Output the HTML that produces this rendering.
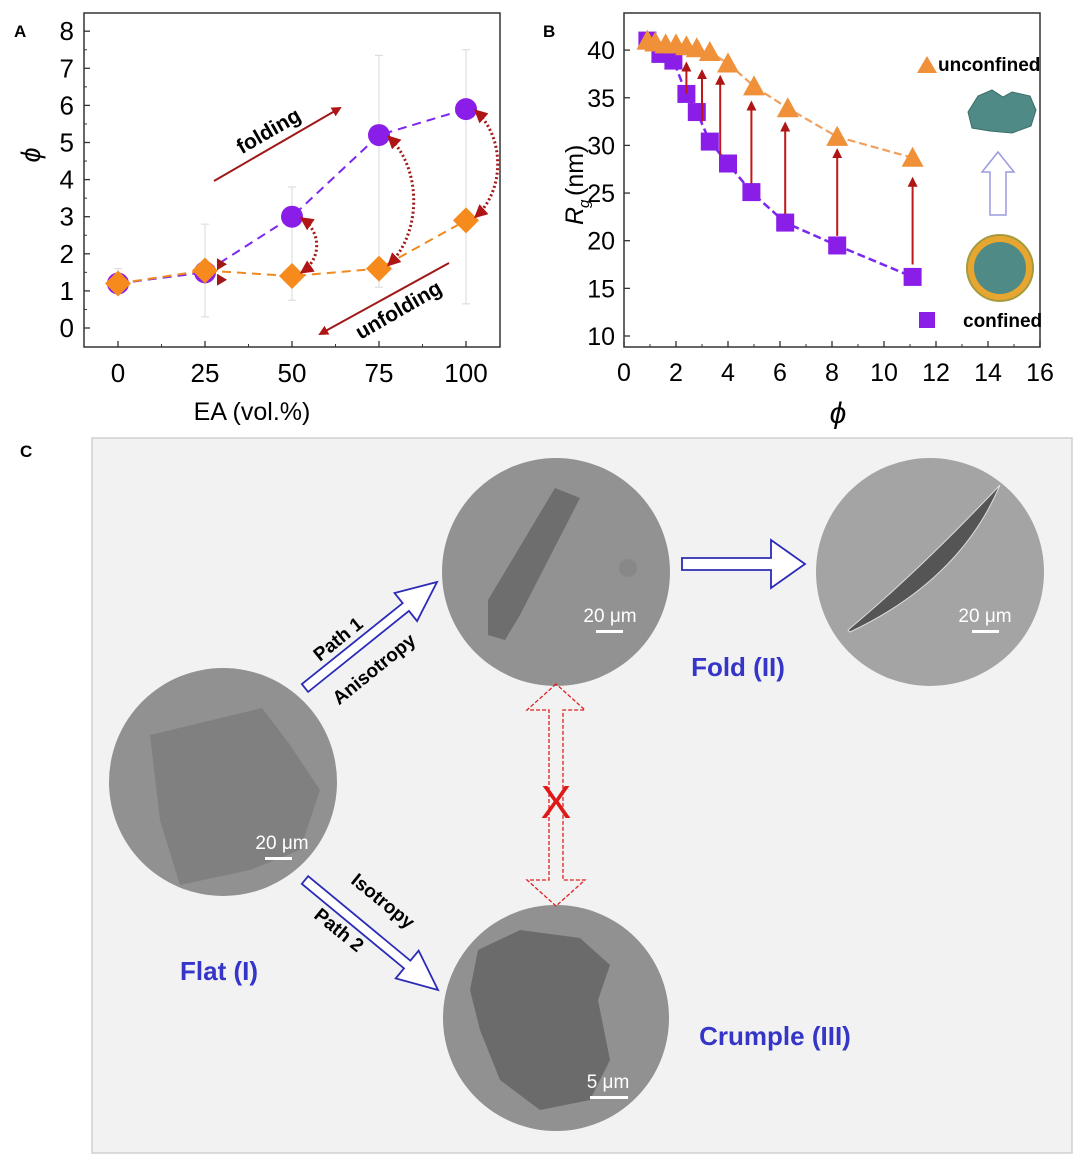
<!DOCTYPE html>
<html><head><meta charset="utf-8">
<style>
html,body{margin:0;padding:0;background:#fff;}
svg{display:block;font-family:"Liberation Sans",Arial,sans-serif;}
</style></head>
<body>
<svg id="fig" width="1080" height="1163" viewBox="0 0 1080 1163" xmlns="http://www.w3.org/2000/svg">
<defs>
<marker id="ah" viewBox="0 0 10 10" refX="8" refY="5" markerWidth="5" markerHeight="5" orient="auto-start-reverse"><path d="M0,0 L10,5 L0,10 z" fill="#b01515"/></marker>
<marker id="ahs" viewBox="0 0 10 10" refX="8" refY="5" markerWidth="4.5" markerHeight="4.5" orient="auto-start-reverse"><path d="M0,0 L10,5 L0,10 z" fill="#b01515"/></marker>
</defs>

<g id="panelA">
<text x="14" y="37" font-size="17" font-weight="bold">A</text>
<rect x="84" y="13" width="416" height="334" fill="none" stroke="#333" stroke-width="1.5"/>
<g id="aAxes"></g>
<g id="aMarks"></g>
<text x="252" y="420" font-size="25" text-anchor="middle">EA (vol.%)</text>
<text x="0" y="0" font-size="27" font-style="italic" text-anchor="middle" transform="translate(40,155) rotate(-90)">ϕ</text>
<line x1="214" y1="181" x2="340" y2="108" stroke="#a01818" stroke-width="2" marker-end="url(#ah)"/>
<text x="0" y="0" font-size="21" font-weight="bold" text-anchor="middle" transform="translate(272,137) rotate(-30)">folding</text>
<line x1="449" y1="263" x2="320" y2="334" stroke="#a01818" stroke-width="2" marker-end="url(#ah)"/>
<text x="0" y="0" font-size="21" font-weight="bold" text-anchor="middle" transform="translate(402,316) rotate(-30)">unfolding</text>
</g>

<g id="panelB">
<text x="543" y="37" font-size="17" font-weight="bold">B</text>
<rect x="624" y="13" width="416" height="334" fill="none" stroke="#333" stroke-width="1.5"/>
<g id="bAxes"></g>
<g id="bMarks"></g>
<text x="838" y="423" font-size="30" font-style="italic" text-anchor="middle">ϕ</text>
<g transform="translate(583,225) rotate(-90)">
<text x="0" y="0" font-size="25" font-style="italic">R</text>
<text x="17" y="6" font-size="15" font-style="italic">g</text>
<text x="29" y="0" font-size="25">(nm)</text>
</g>
<polygon points="917,73 927,56 937,73" fill="#f0913a"/>
<text x="938" y="71" font-size="19" font-weight="bold">unconfined</text>
<rect x="919" y="312" width="16" height="16" fill="#8a1ee8"/>
<text x="963" y="327" font-size="19" font-weight="bold">confined</text>
<path d="M968,112 L978,96 L992,90 L1003,97 L1012,92 L1030,96 L1036,110 L1031,126 L1012,133 L990,131 L972,128 Z" fill="#4f8a86" stroke="#3b6e6a"/>
<polygon points="990,215 990,172 982,172 998,152 1014,172 1006,172 1006,215" fill="#fff" stroke="#9a9ae0" stroke-width="1.5"/>
<circle cx="1000" cy="268" r="33" fill="#e6a630" stroke="#a69a40" stroke-width="2"/>
<circle cx="1000" cy="268" r="26" fill="#4f8a86"/>
</g>

<g id="panelC">
<text x="20" y="457" font-size="17" font-weight="bold">C</text>
<rect x="92" y="438" width="980" height="715" fill="#f2f2f2" stroke="#d0d0d0" stroke-width="1.5"/>
<g>
<circle cx="223" cy="782" r="114" fill="#919191"/>
<polygon points="150,735 262,708 290,745 320,790 300,850 250,870 180,885 160,820" fill="#808080"/>
<text x="282" y="849" font-size="19" fill="#fff" text-anchor="middle">20 μm</text>
<rect x="265" y="857" width="27" height="3" fill="#fff"/>
</g>
<g>
<circle cx="556" cy="572" r="114" fill="#929292"/>
<polygon points="488,600 555,488 580,498 520,615 505,640 488,635" fill="#6e6e6e"/>
<circle cx="628" cy="568" r="9" fill="#888"/>
<text x="610" y="622" font-size="19" fill="#fff" text-anchor="middle">20 μm</text>
<rect x="596" y="630" width="27" height="3" fill="#fff"/>
</g>
<g>
<circle cx="930" cy="572" r="114" fill="#a4a4a4"/>
<path d="M848,630 Q920,570 1000,485 Q960,580 850,632 Z" fill="#555" stroke="#ddd" stroke-width="1"/>
<text x="985" y="622" font-size="19" fill="#fff" text-anchor="middle">20 μm</text>
<rect x="972" y="630" width="27" height="3" fill="#fff"/>
</g>
<g>
<circle cx="556" cy="1018" r="113" fill="#919191"/>
<polygon points="478,950 520,930 580,938 610,965 598,1000 610,1060 590,1100 540,1110 500,1080 480,1030 470,990" fill="#6b6b6b"/>
<text x="608" y="1088" font-size="19" fill="#fff" text-anchor="middle">5 μm</text>
<rect x="590" y="1096" width="38" height="3" fill="#fff"/>
</g>
<g id="hollowArrows"></g>
<text x="0" y="0" font-size="19" font-weight="bold" text-anchor="middle" transform="translate(342,644) rotate(-39)">Path 1</text>
<text x="0" y="0" font-size="19" font-weight="bold" text-anchor="middle" transform="translate(378,674) rotate(-39)">Anisotropy</text>
<text x="0" y="0" font-size="19" font-weight="bold" text-anchor="middle" transform="translate(379,906) rotate(39)">Isotropy</text>
<text x="0" y="0" font-size="19" font-weight="bold" text-anchor="middle" transform="translate(335,935) rotate(39)">Path 2</text>
<g fill="none" stroke="#e02020" stroke-width="1.3" stroke-dasharray="4,2">
<polygon points="556,684 527,710 549,710 549,880 527,880 556,906 585,880 563,880 563,710 585,710"/>
</g>
<text x="556" y="818" font-size="46" fill="#e01818" text-anchor="middle">X</text>
<text x="219" y="980" font-size="26" font-weight="bold" fill="#3535c8" text-anchor="middle">Flat (I)</text>
<text x="738" y="676" font-size="26" font-weight="bold" fill="#3535c8" text-anchor="middle">Fold (II)</text>
<text x="775" y="1045" font-size="26" font-weight="bold" fill="#3535c8" text-anchor="middle">Crumple (III)</text>
</g>
</svg>

<script>
const NS="http://www.w3.org/2000/svg";
function mk(parent,tag,attrs){const e=document.createElementNS(NS,tag);for(const k in attrs)e.setAttribute(k,attrs[k]);parent.appendChild(e);return e;}

// ---------- Panel A data ----------
const aCategories=[0,25,50,75,100];
const aFolding=[1.2,1.5,3.0,5.2,5.9];
const aUnfolding=[1.2,1.55,1.4,1.6,2.9];
const aErrLow=[1.0,0.3,0.75,1.1,0.65];
const aErrHigh=[1.6,2.8,3.8,7.35,7.5];
const aXTicks=[0,25,50,75,100];
const aYTicks=[0,1,2,3,4,5,6,7,8];
const ax=v=>118+v*3.48;
const ay=v=>328-v*37.1;

const aAxes=document.getElementById('aAxes');
aYTicks.forEach(t=>{
  const l=mk(aAxes,'line',{x1:84,x2:90,y1:ay(t),y2:ay(t),stroke:'#333','stroke-width':1.3});
  
  
  const tx=mk(aAxes,'text',{x:74,y:ay(t)+9,'font-size':26,'text-anchor':'end'});
  tx.textContent=t;
  
  
  if(t<8){const m=mk(aAxes,'line',{x1:84,x2:87,y1:ay(t+0.5),y2:ay(t+0.5),stroke:'#333'});
  
  }
});
aXTicks.forEach(t=>{
  const l=mk(aAxes,'line',{x1:ax(t),x2:ax(t),y1:347,y2:341,stroke:'#333','stroke-width':1.3});
  
  
  const tx=mk(aAxes,'text',{x:ax(t),y:382,'font-size':26,'text-anchor':'middle'});
  tx.textContent=t;
  
  
  if(t<100){const m=mk(aAxes,'line',{x1:ax(t+12.5),x2:ax(t+12.5),y1:347,y2:344,stroke:'#333'});
  
  }
});

const aM=document.getElementById('aMarks');
aCategories.forEach((c,i)=>{
  const e=mk(aM,'line',{x1:ax(c),x2:ax(c),y1:ay(aErrLow[i]),y2:ay(aErrHigh[i]),stroke:'#d8d8d8','stroke-width':1});
  
  
  [aErrLow[i],aErrHigh[i]].forEach(v=>{const c2=mk(aM,'line',{x1:ax(c)-4,x2:ax(c)+4,y1:ay(v),y2:ay(v),stroke:'#d8d8d8'});
  
  });
});
const pf=mk(aM,'polyline',{points:aCategories.map((c,i)=>ax(c)+','+ay(aFolding[i])).join(' '),fill:'none',stroke:'#7a28f0','stroke-width':2,'stroke-dasharray':'9,6'});


const pu=mk(aM,'polyline',{points:aCategories.map((c,i)=>ax(c)+','+ay(aUnfolding[i])).join(' '),fill:'none',stroke:'#f08a20','stroke-width':2,'stroke-dasharray':'9,6'});


aCategories.forEach((c,i)=>{
  const p=mk(aM,'circle',{cx:ax(c),cy:ay(aFolding[i]),r:11,fill:'#8a1ee8'});
  
  
});
aCategories.forEach((c,i)=>{
  const x=ax(c),y=ay(aUnfolding[i]);
  const d=mk(aM,'polygon',{points:`${x},${y-13} ${x+13},${y} ${x},${y+13} ${x-13},${y}`,fill:'#f78a1c'});
  
  
});
for(let i=2;i<aCategories.length;i++){
  const x=ax(aCategories[i])+10,y1=ay(aFolding[i])+2,y2=ay(aUnfolding[i])-4;
  const bulge=10+(y2-y1)*0.18;
  const p=mk(aM,'path',{d:`M${x},${y1} C${x+bulge},${y1+(y2-y1)*0.25} ${x+bulge},${y2-(y2-y1)*0.25} ${x},${y2}`,fill:'none',stroke:'#a01818','stroke-width':3,'stroke-dasharray':'2,2.5','marker-start':'url(#ahs)','marker-end':'url(#ahs)'});
  
  
}
[ay(1.72),ay(1.3)].forEach(y=>{
  const x=ax(25)+12;
  const t=mk(aM,'polygon',{points:`${x},${y-6} ${x+10},${y} ${x},${y+6}`,fill:'#a01818'});
  
  
});

// ---------- Panel B data ----------
const bUnconfX=[0.9,1.2,1.6,2.0,2.4,2.8,3.3,4.0,5.0,6.3,8.2,11.1];
const bUnconfY=[41.0,40.8,40.6,40.6,40.4,40.2,39.8,38.6,36.2,33.9,30.9,28.7];
const bConfX=[0.9,1.4,1.9,2.4,2.8,3.3,4.0,4.9,6.2,8.2,11.1];
const bConfY=[41.0,39.6,38.9,35.4,33.5,30.4,28.1,25.1,21.9,19.5,16.2];
const bArrowX=[2.4,3.0,3.7,4.9,6.2,8.2,11.1];
const bArrowFrom=[35.4,32.5,29.0,26.0,22.8,20.5,17.5];
const bArrowTo=[38.6,37.8,37.2,34.5,32.3,29.5,26.5];
const bXTicks=[0,2,4,6,8,10,12,14,16];
const bYTicks=[10,15,20,25,30,35,40];
const bx=v=>624+v*26;
const by=v=>336-(v-10)*9.53;

const bAxes=document.getElementById('bAxes');
bYTicks.forEach(t=>{
  const l=mk(bAxes,'line',{x1:624,x2:630,y1:by(t),y2:by(t),stroke:'#333','stroke-width':1.3});
  
  
  const tx=mk(bAxes,'text',{x:615,y:by(t)+9,'font-size':25,'text-anchor':'end'});
  tx.textContent=t;
  
  
});
bXTicks.forEach(t=>{
  const l=mk(bAxes,'line',{x1:bx(t),x2:bx(t),y1:347,y2:341,stroke:'#333','stroke-width':1.3});
  
  
  const tx=mk(bAxes,'text',{x:bx(t),y:381,'font-size':25,'text-anchor':'middle'});
  tx.textContent=t;
  
  
  if(t<16){const m=mk(bAxes,'line',{x1:bx(t+1),x2:bx(t+1),y1:347,y2:344,stroke:'#333'});
  
  }
});

const bM=document.getElementById('bMarks');
const lu=mk(bM,'polyline',{points:bUnconfX.map((x,i)=>bx(x)+','+by(bUnconfY[i])).join(' '),fill:'none',stroke:'#f0a060','stroke-width':2.2,'stroke-dasharray':'8,4'});


const lc=mk(bM,'polyline',{points:bConfX.map((x,i)=>bx(x)+','+by(bConfY[i])).join(' '),fill:'none',stroke:'#7a28f0','stroke-width':2.5,'stroke-dasharray':'8,4'});


bConfX.forEach((x,i)=>{
  const r=mk(bM,'rect',{x:bx(x)-9,y:by(bConfY[i])-9,width:18,height:18,fill:'#8a1ee8'});
  
  
});
bUnconfX.forEach((x,i)=>{
  const cx=bx(x),cy=by(bUnconfY[i]);
  const t=mk(bM,'polygon',{points:`${cx-11},${cy+9} ${cx},${cy-11} ${cx+11},${cy+9}`,fill:'#f0913a'});
  
  
});
bArrowX.forEach((x,i)=>{
  const a=mk(bM,'line',{x1:bx(x),x2:bx(x),y1:by(bArrowFrom[i]),y2:by(bArrowTo[i]),stroke:'#c01818','stroke-width':2,'marker-end':'url(#ah)'});
  
  
});

// ---------- Panel C hollow arrows ----------
const ha=document.getElementById('hollowArrows');
function hollow(x1,y1,x2,y2,sw,hw,hl,name){
  const L=Math.hypot(x2-x1,y2-y1),ang=Math.atan2(y2-y1,x2-x1)*180/Math.PI;
  const p=mk(ha,'polygon',{points:`0,${-sw} ${L-hl},${-sw} ${L-hl},${-hw} ${L},0 ${L-hl},${hw} ${L-hl},${sw} 0,${sw}`,fill:'#fff',stroke:'#2b2bb8','stroke-width':1.8,transform:`translate(${x1},${y1}) rotate(${ang})`});
  
  
}
hollow(305,688,437,582,5,18,40,'path1-arrow');
hollow(305,880,438,990,5,18,40,'path2-arrow');
hollow(682,564,805,564,6,24,34,'fold-progress-arrow');
</script>
</body></html>
